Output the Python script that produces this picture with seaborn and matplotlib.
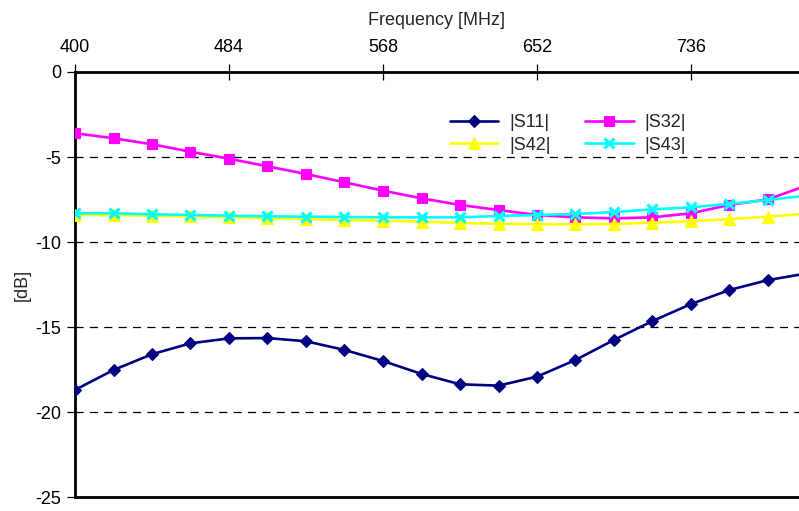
import matplotlib
matplotlib.use("Agg")
import matplotlib.pyplot as plt
import seaborn as sns
import pandas as pd

# Frequency sweep (MHz) and measured S-parameter magnitudes (dB)
freq = [400, 421, 442, 463, 484, 505, 526, 547, 568, 589,
        610, 631, 652, 673, 694, 715, 736, 757, 778, 799]
s11 = [-18.70, -17.53, -16.60, -15.96, -15.67, -15.65, -15.84, -16.35, -17.00, -17.76,
       -18.37, -18.45, -17.92, -16.94, -15.76, -14.65, -13.65, -12.82, -12.24, -11.85]
s32 = [-3.60, -3.90, -4.25, -4.69, -5.10, -5.55, -6.00, -6.49, -6.98, -7.43,
       -7.82, -8.12, -8.41, -8.55, -8.61, -8.55, -8.31, -7.82, -7.49, -6.68]
s42 = [-8.40, -8.42, -8.45, -8.50, -8.55, -8.60, -8.65, -8.70, -8.75, -8.80,
       -8.88, -8.93, -8.96, -8.96, -8.94, -8.86, -8.78, -8.65, -8.51, -8.33]
s43 = [-8.31, -8.31, -8.37, -8.41, -8.45, -8.49, -8.51, -8.53, -8.55, -8.55,
       -8.55, -8.47, -8.41, -8.35, -8.24, -8.08, -7.96, -7.76, -7.53, -7.27]

labels = ["|S11|", "|S32|", "|S42|", "|S43|"]
x_ticks = [400, 484, 568, 652, 736]
y_ticks = [0, -5, -10, -15, -20, -25]

df = pd.DataFrame({"freq": freq * 4,
                   "dB": s11 + s32 + s42 + s43,
                   "trace": sum([[lab] * len(freq) for lab in labels], [])})

sns.set_theme(style="white")
plt.rcParams["font.family"] = ["Liberation Sans", "DejaVu Sans"]

fig = plt.figure(figsize=(7.99, 5.11), dpi=100)
ax = fig.add_axes([75 / 799, 1 - 497 / 511, 1 - 75 / 799, 425 / 511])

colors = {"|S11|": "#000080", "|S32|": "#FF00FF", "|S42|": "#FFFF00", "|S43|": "#00FFFF"}
markers = {"|S11|": "D", "|S32|": "s", "|S42|": "^", "|S43|": "x"}
sizes = {"|S11|": 6.5, "|S32|": 7.5, "|S42|": 8, "|S43|": 7.5}
edge_w = {"|S11|": 0.8, "|S32|": 0.8, "|S42|": 0.8, "|S43|": 2.3}

for i, lab in enumerate(labels):
    sub = df[df["trace"] == lab]
    sns.lineplot(data=sub, x="freq", y="dB", ax=ax, color=colors[lab],
                 marker=markers[lab], markersize=sizes[lab],
                 markeredgecolor=colors[lab], markeredgewidth=edge_w[lab],
                 linewidth=1.9, label=lab, zorder=3 + i)

# Dashed horizontal gridlines
for yv in [-5, -10, -15, -20]:
    ax.axhline(yv, color="black", linewidth=0.9, linestyle=(0, (6.5, 5)), zorder=1)

ax.set_xlim(400, 400 + 724 / 38.5 * 21)
ax.set_ylim(-25, 0)

ax.xaxis.tick_top()
ax.xaxis.set_label_position("top")
ax.set_xticks(x_ticks)
ax.set_xticklabels([str(v) for v in x_ticks])
ax.set_yticks(y_ticks)
ax.set_yticklabels([str(v) for v in y_ticks])
ax.tick_params(axis="x", direction="inout", length=11, width=0.9, colors="black",
               labelsize=13, pad=6, top=True, bottom=False)
ax.tick_params(axis="y", direction="out", length=6, width=0.9, colors="black",
               labelsize=13, pad=4, left=True)
ax.set_xlabel("Frequency [MHz]", fontsize=13, labelpad=10)
ax.set_ylabel("[dB]", fontsize=13, labelpad=3)

for side in ["top", "bottom", "left"]:
    ax.spines[side].set_visible(True)
    ax.spines[side].set_color("black")
    ax.spines[side].set_linewidth(2.0)
ax.spines["right"].set_visible(False)
ax.grid(False)

# Legend filled row by row: |S11| |S32| / |S42| |S43|
handles, labs = ax.get_legend_handles_labels()
order = [0, 2, 1, 3]
ax.legend([handles[k] for k in order], [labs[k] for k in order], ncol=2,
          frameon=False, loc="upper left", bbox_to_anchor=(0.505, 0.922),
          fontsize=13, borderpad=0, handlelength=2.7, handletextpad=0.6,
          columnspacing=1.9, labelspacing=0.3)

fig.savefig("out.png", dpi=100)
